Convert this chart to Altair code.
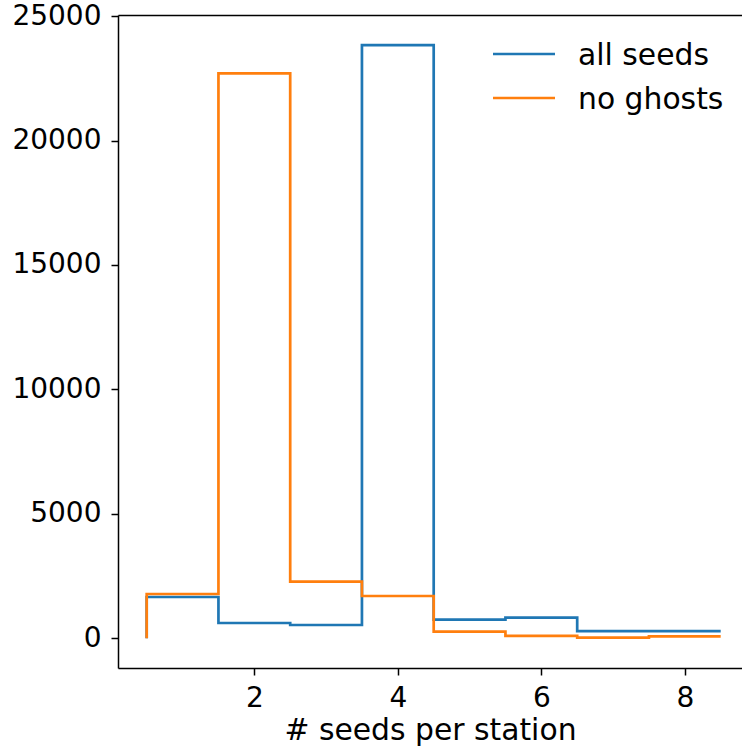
import altair as alt
import pandas as pd

# Histogram of seeds per station: integer bins 1..8, edges at half-integers
bin_edges = [0.5, 1.5, 2.5, 3.5, 4.5, 5.5, 6.5, 7.5, 8.5]
all_seeds = [1660, 615, 535, 23830, 750, 830, 293, 293]
no_ghosts = [1780, 22700, 2280, 1700, 270, 100, 25, 75]

series_names = ["all seeds", "no ghosts"]
series_colors = ["#1f77b4", "#ff7f0e"]


def step_outline(name, counts):
    """Vertices of a step-style histogram outline (rising from zero at the left edge)."""
    rows = [{"series": name, "x": bin_edges[0], "y": 0, "idx": 0}]
    k = 1
    for i, c in enumerate(counts):
        rows.append({"series": name, "x": bin_edges[i], "y": c, "idx": k})
        rows.append({"series": name, "x": bin_edges[i + 1], "y": c, "idx": k + 1})
        k += 2
    return rows


df = pd.DataFrame(step_outline("all seeds", all_seeds) + step_outline("no ghosts", no_ghosts))

FS = 28
FS_BIG = 29.8
LW = 2.7
x_scale = alt.Scale(domain=[0.1, 8.797], nice=False, zero=False)
y_scale = alt.Scale(domain=[-1192, 25042], nice=False, zero=False)
color = alt.Color(
    "series:N",
    scale=alt.Scale(domain=series_names, range=series_colors),
    legend=None,
)

base = alt.Chart(df).mark_line(strokeWidth=LW)

blue = base.transform_filter(alt.datum.series == "all seeds").encode(
    x=alt.X(
        "x:Q",
        scale=x_scale,
        axis=alt.Axis(
            orient="bottom",
            values=[2, 4, 6, 8],
            title="# seeds per station",
            grid=False,
        ),
    ),
    y=alt.Y(
        "y:Q",
        scale=y_scale,
        axis=alt.Axis(
            values=[0, 5000, 10000, 15000, 20000, 25000],
            format="d",
            title=None,
            grid=False,
        ),
    ),
    color=color,
    order="idx:Q",
)

orange = base.transform_filter(alt.datum.series == "no ghosts").encode(
    x=alt.X(
        "x:Q",
        scale=x_scale,
        axis=alt.Axis(orient="top", labels=False, ticks=False, title=None, grid=False),
    ),
    y=alt.Y("y:Q", scale=y_scale),
    color=color,
    order="idx:Q",
)

# Legend in the upper right corner: a short line sample followed by the series name
legend_layers = []
legend_top, legend_step = 39, 44
for i, (name, col) in enumerate(zip(series_names, series_colors)):
    ly = legend_top + i * legend_step
    entry = alt.Chart(pd.DataFrame({"series": [name]}))
    legend_layers.append(
        entry.mark_rule(color=col, strokeWidth=LW).encode(
            x=alt.value(375), x2=alt.value(437), y=alt.value(ly)
        )
    )
    legend_layers.append(
        entry.mark_text(
            align="left",
            baseline="alphabetic",
            font="DejaVu Sans",
            fontSize=FS_BIG,
            color="#000000",
        ).encode(x=alt.value(460), y=alt.value(ly + 11), text="series:N")
    )

chart = (
    alt.layer(blue, orange, *legend_layers)
    .resolve_axis(x="independent")
    .properties(
        width=624,
        height=653,
        autosize=alt.AutoSizeParams(type="none"),
        padding={"left": 118, "top": 15, "right": 0, "bottom": 79},
        background="white",
    )
    .configure_view(stroke=None)
    .configure_axis(
        domainColor="#000000",
        domainWidth=1.5,
        tickColor="#000000",
        tickWidth=1.5,
        tickSize=7,
        labelFont="DejaVu Sans",
        labelFontSize=FS,
        labelColor="#000000",
        titleFont="DejaVu Sans",
        titleFontSize=FS_BIG,
        titleFontWeight="normal",
        titleColor="#000000",
    )
    .configure_axisLeft(labelPadding=10)
    .configure_axisBottom(labelPadding=9, titlePadding=3)
)

chart.save("out.html", embed_options={"renderer": "svg", "actions": False})
